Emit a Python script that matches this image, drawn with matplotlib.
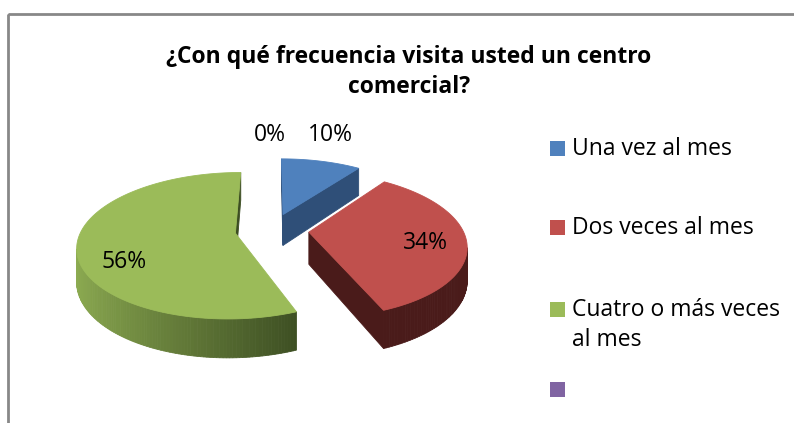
import numpy as np
import matplotlib.pyplot as plt
from matplotlib.patches import Polygon, Rectangle
from matplotlib.colors import to_rgb

# ------------------------------------------------------------
# Data
# ------------------------------------------------------------
TITLE = "¿Con qué frecuencia visita usted un centro\ncomercial?"
CATEGORIES = ["Una vez al mes", "Dos veces al mes", "Cuatro o más veces\nal mes", ""]
VALUES = [10, 34, 56, 0]
LABELS = ["10%", "34%", "56%", "0%"]

TOP_COLORS = ["#4F81BD", "#C0504D", "#9BBB59", "#8064A2"]
WALL_LIGHT = ["#3A6090", "#561F1E", "#8EAD52", "#5E4A78"]
WALL_DARK = ["#2F4F78", "#4A1B1A", "#3C4D22", "#4A3A60"]

# ------------------------------------------------------------
# 3D pie geometry (pixel space)
# ------------------------------------------------------------
W, H = 794, 423
CX, CY = 272.0, 230.0      # projected centre of the pie
A, B = 154.0, 70.0         # horizontal / vertical radius
D = 32.0                   # thickness
K = 0.17                   # perspective strength
EXPLODE = 0.24
FONT = "Open Sans"


def proj(x, z, h=0.0):
    p = 1.0 / (1.0 + K * z)
    return CX + A * x * p, CY - B * z * p + D * h * p


def wall_visible(nx, nz, px, pz):
    # camera sits in front of the pie at z = -1/K
    return nx * (0.0 - px) + nz * (-1.0 / K - pz) > 0


def mix(c1, c2, t):
    c1, c2 = np.array(to_rgb(c1)), np.array(to_rgb(c2))
    return tuple(c1 + (c2 - c1) * t)


fig = plt.figure(figsize=(W / 100, H / 100), dpi=100)
ax = fig.add_axes([0, 0, 1, 1])
ax.set_xlim(0, W)
ax.set_ylim(H, 0)
ax.axis("off")

# chart frame (runs off the right / bottom edge like the source)
ax.add_patch(Rectangle((8, 14), W + 20, H + 20, fill=False,
                       edgecolor="#888888", linewidth=2.0, zorder=0))

total = float(sum(VALUES))
start = 0.0
slices = []
for i, v in enumerate(VALUES):
    span = 360.0 * v / total
    slices.append((i, start, start + span))
    start += span

# back slices first
order = sorted(slices, key=lambda s: -np.cos(np.radians((s[1] + s[2]) / 2)))

for i, t0, t1 in order:
    if t1 - t0 <= 0:
        continue
    mid = np.radians((t0 + t1) / 2)
    ox, oz = EXPLODE * np.sin(mid), EXPLODE * np.cos(mid)
    th = np.radians(np.linspace(t0, t1, max(int(t1 - t0), 2) + 1))
    rx, rz = ox + np.sin(th), oz + np.cos(th)

    faces = []
    # radial faces
    for ang, sgn in ((t0, -1), (t1, 1)):
        a = np.radians(ang)
        if sgn < 0:
            nx, nz = -np.cos(a), np.sin(a)
        else:
            nx, nz = np.cos(a), -np.sin(a)
        ex, ez = ox + np.sin(a), oz + np.cos(a)
        if wall_visible(nx, nz, (ox + ex) / 2, (oz + ez) / 2):
            pts = [proj(ox, oz), proj(ex, ez), proj(ex, ez, 1), proj(ox, oz, 1)]
            faces.append((pts, WALL_DARK[i]))
    # curved outer wall
    for j in range(len(th) - 1):
        tm = (th[j] + th[j + 1]) / 2
        px, pz = ox + np.sin(tm), oz + np.cos(tm)
        if not wall_visible(np.sin(tm), np.cos(tm), px, pz):
            continue
        shade = np.clip((np.sin(tm) + 1.0) / 1.4, 0, 1)
        col = mix(WALL_LIGHT[i], WALL_DARK[i], shade)
        pts = [proj(rx[j], rz[j]), proj(rx[j + 1], rz[j + 1]),
               proj(rx[j + 1], rz[j + 1], 1), proj(rx[j], rz[j], 1)]
        faces.append((pts, col))
    for pts, col in faces:
        ax.add_patch(Polygon(pts, closed=True, facecolor=col,
                             edgecolor=col, linewidth=0.6, zorder=2))
    top = [proj(ox, oz)] + [proj(x, z) for x, z in zip(rx, rz)]
    ax.add_patch(Polygon(top, closed=True, facecolor=TOP_COLORS[i],
                         edgecolor=TOP_COLORS[i], linewidth=0.6, zorder=3))

# data labels
label_pos = {0: proj(0.49, 1.76), 1: proj(0.965, -0.18), 2: proj(-0.89, -0.43), 3: proj(-0.02, 1.76)}
for i, lab in enumerate(LABELS):
    x, y = label_pos[i]
    ax.text(x, y, lab, ha="center", va="center", fontsize=16.5,
            family=FONT, color="black", zorder=5)

# title
ax.text(409, 72, TITLE, ha="center", va="center", fontsize=16.5,
        fontweight="bold", family=FONT, linespacing=1.35)

# legend
leg_rows = [149, 228, 310, 390]
for i, (cat, y) in enumerate(zip(CATEGORIES, leg_rows)):
    ax.add_patch(Rectangle((550, y - 7.5), 15, 15, facecolor=TOP_COLORS[i],
                           edgecolor="none", zorder=4))
    ax.text(572, y, cat.split("\n")[0], ha="left", va="center", fontsize=16.5,
            family=FONT)
    if "\n" in cat:
        ax.text(572, y + 30, cat.split("\n")[1], ha="left", va="center",
                fontsize=16.5, family=FONT)

fig.savefig("out.png", dpi=100)
